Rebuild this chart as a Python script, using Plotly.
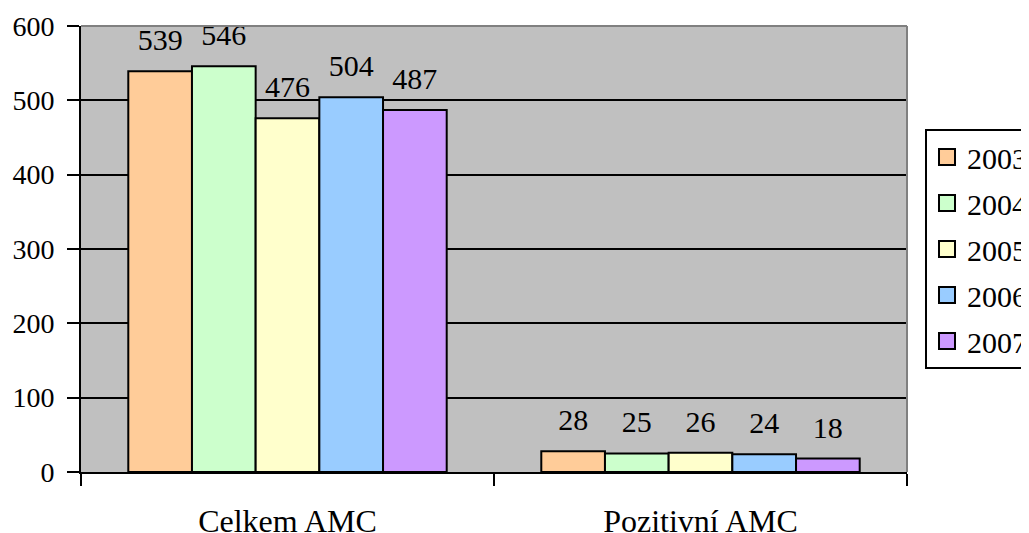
import plotly.graph_objects as go

categories = ["Celkem AMC", "Pozitivní AMC"]
years = ["2003", "2004", "2005", "2006", "2007"]
values = {
    "2003": [539, 28],
    "2004": [546, 25],
    "2005": [476, 26],
    "2006": [504, 24],
    "2007": [487, 18],
}
colors = {
    "2003": "#FFCC99",
    "2004": "#CCFFCC",
    "2005": "#FFFFCC",
    "2006": "#99CCFF",
    "2007": "#CC99FF",
}
y_ticks = [0, 100, 200, 300, 400, 500, 600]

FONT = "Liberation Serif, Times New Roman, serif"

fig = go.Figure()
for yr in years:
    fig.add_trace(go.Bar(
        x=categories, y=values[yr], name=yr,
        marker=dict(color=colors[yr], line=dict(color="black", width=2)),
        offsetgroup=yr, showlegend=False, hoverinfo="skip",
    ))
# value labels, grouped like the bars
for yr in years:
    fig.add_trace(go.Scatter(
        x=categories, y=values[yr], mode="markers+text", orientation="v",
        offsetgroup=yr, alignmentgroup="labels",
        text=[str(v) for v in values[yr]], textposition="top center",
        textfont=dict(family=FONT, size=30, color="black"),
        marker=dict(size=20, opacity=0),
        showlegend=False, hoverinfo="skip", cliponaxis=False,
    ))
# legend entries (square swatches)
for yr in years:
    fig.add_trace(go.Scatter(
        x=[None], y=[None], mode="markers", name=yr,
        marker=dict(symbol="square", size=16, color=colors[yr],
                    line=dict(color="black", width=2)),
        legendgroup=yr, showlegend=True, hoverinfo="skip",
    ))

fig.update_layout(
    width=1021, height=525,
    margin=dict(l=73, r=122, t=18, b=61, autoexpand=False),
    paper_bgcolor="white", plot_bgcolor="#C0C0C0",
    barmode="group", bargap=0.229, bargroupgap=0,
    scattermode="group", scattergap=0.229,
    font=dict(family=FONT, color="black"),
    legend=dict(
        x=1.0218, y=0.7690, xanchor="left", yanchor="top",
        bgcolor="white", bordercolor="black", borderwidth=2,
        font=dict(family=FONT, size=30, color="black"),
        tracegroupgap=4, itemclick=False, itemsizing="trace",
    ),
    showlegend=True,
)
fig.update_yaxes(
    range=[0, 600], tickvals=y_ticks,
    showgrid=True, gridcolor="black", gridwidth=2,
    showline=True, linecolor="black", linewidth=2,
    ticks="outside", ticklen=12, tickwidth=2, tickcolor="black",
    tickfont=dict(family=FONT, size=28, color="black"),
    ticklabelstandoff=7, zeroline=False,
)
fig.update_xaxes(
    showline=True, linecolor="black", linewidth=2,
    ticks="outside", tickson="boundaries", ticklen=12, tickwidth=2, tickcolor="black",
    tickfont=dict(family=FONT, size=32, color="black"),
    ticklabelstandoff=20, showgrid=False,
)
# plot-area border (top and right) in gray
fig.add_shape(type="line", xref="paper", yref="paper", x0=0, x1=1, y0=1, y1=1,
              line=dict(color="#808080", width=2), layer="above")
fig.add_shape(type="line", xref="paper", yref="paper", x0=1, x1=1, y0=0, y1=1,
              line=dict(color="#808080", width=2), layer="above")

fig.write_html("out.html")
